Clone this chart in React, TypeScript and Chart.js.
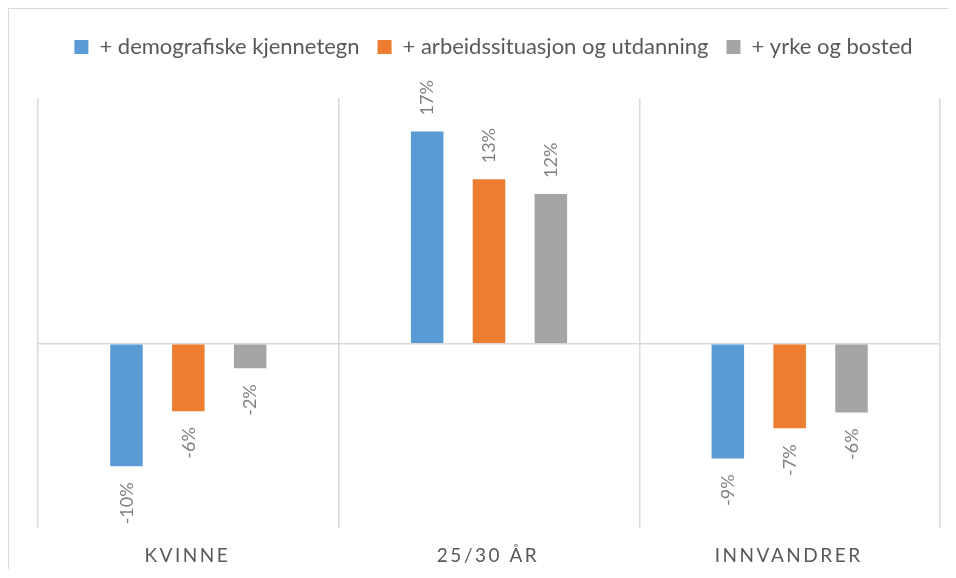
import React, { useEffect, useRef } from "react";
import { Chart, registerables } from "chart.js";

Chart.register(...registerables);

// ---- data ----
const categories = ["KVINNE", "25/30 ÅR", "INNVANDRER"];
const seriesNames = [
  "+ demografiske kjennetegn",
  "+ arbeidssituasjon og utdanning",
  "+ yrke og bosted",
];
const demografiske = [-10.0, 17.3, -9.35];
const arbeidssituasjon = [-5.5, 13.4, -6.9];
const yrkeBosted = [-2.0, 12.2, -5.6];
const yMin = -15;
const yMax = 20;

// ---- styles ----
const seriesColors = ["#5B9BD5", "#ED7D31", "#A5A5A5"];
const FONT = "Lato, 'Open Sans', sans-serif";
const LEGEND_SIZE = 22;
const LEGEND_TOP = 9;
const LEGEND_EXTRA = 30.3;
const GRID = "#D9D9D9";

const fmt = (v: number) => `${v < 0 ? "-" : ""}${Math.round(Math.abs(v))}%`;

const legendSpacing = {
  id: "legendSpacing",
  beforeInit(chart: any) {
    const legend = chart.legend;
    if (!legend) return;
    const orig = legend.fit;
    legend.fit = function () {
      orig.call(this);
      this.height += LEGEND_EXTRA;
    };
  },
};

const labelsPlugin = {
  id: "labelsPlugin",
  afterDatasetsDraw(chart: any) {
    const ctx = chart.ctx;
    const size = 18;
    const cap = size * 0.7;
    const gap = 16;
    ctx.save();
    ctx.font = `${size}px ${FONT}`;
    ctx.fillStyle = "#808080";
    ctx.textBaseline = "alphabetic";
    chart.data.datasets.forEach((ds: any, di: number) => {
      const meta = chart.getDatasetMeta(di);
      meta.data.forEach((bar: any, i: number) => {
        const v = ds.data[i];
        const txt = fmt(v);
        ctx.save();
        if (v >= 0) {
          ctx.translate(bar.x, bar.y - gap);
          ctx.rotate(-Math.PI / 2);
          ctx.textAlign = "left";
        } else {
          ctx.translate(bar.x, bar.y + gap);
          ctx.rotate(-Math.PI / 2);
          ctx.textAlign = "right";
        }
        ctx.fillText(txt, 0, cap / 2);
        ctx.restore();
      });
    });
    ctx.restore();
  },
  afterDraw(chart: any) {
    const ctx = chart.ctx;
    const xs = chart.scales.x;
    const area = chart.chartArea;
    ctx.save();
    ctx.font = `19px ${FONT}`;
    ctx.fillStyle = "#595959";
    ctx.textAlign = "center";
    ctx.textBaseline = "alphabetic";
    (ctx as any).letterSpacing = "2.5px";
    categories.forEach((c, i) => {
      const x = xs.getPixelForValue(i);
      ctx.fillText(c, x - 1, area.bottom + 34);
    });
    ctx.restore();
  },
};

export default function App() {
  const ref = useRef<HTMLCanvasElement | null>(null);

  useEffect(() => {
    if (!ref.current) return;
    const series = [demografiske, arbeidssituasjon, yrkeBosted];
    const chart = new Chart(ref.current, {
      type: "bar",
      data: {
        labels: categories,
        datasets: series.map((d, i) => ({
          label: seriesNames[i],
          data: d,
          backgroundColor: seriesColors[i],
          borderColor: seriesColors[i],
          borderWidth: 0,
          categoryPercentage: 0.617,
          barPercentage: 0.526,
        })),
      },
      options: {
        responsive: false,
        animation: false,
        layout: {
          padding: { left: 29, right: 0, top: LEGEND_TOP, bottom: 41.3 },
        },
        plugins: {
          legend: {
            display: true,
            position: "top",
            labels: {
              boxWidth: 14,
              boxHeight: 14,
              padding: 18,
              color: "#595959",
              font: { family: FONT, size: LEGEND_SIZE },
            },
          },
          tooltip: { enabled: false },
        },
        scales: {
          x: {
            ticks: { display: false },
            grid: {
              display: true,
              offset: true,
              color: GRID,
              lineWidth: 1.5,
              drawTicks: false,
            },
            border: { display: false },
          },
          y: {
            min: yMin,
            max: yMax,
            ticks: { display: false, stepSize: 5 },
            grid: {
              drawTicks: false,
              lineWidth: 1.5,
              color: (c: any) =>
                c.tick && c.tick.value === 0 ? GRID : "rgba(0,0,0,0)",
            },
            border: { display: false },
          },
          y2: {
            position: "right",
            display: true,
            ticks: { display: false },
            grid: { display: false, drawTicks: false },
            border: { display: false },
            afterFit: (s: any) => {
              s.width = 9;
            },
          },
        },
      },
      plugins: [legendSpacing, labelsPlugin],
    });
    return () => chart.destroy();
  }, []);

  return (
    <div
      style={{
        borderLeft: "1px solid #D9D9D9",
        borderTop: "1px solid #D9D9D9",
        width: 946,
        height: 560,
        background: "#FFFFFF",
      }}
    >
      <canvas ref={ref} width={940} height={560} style={{ display: "block" }} />
    </div>
  );
}
